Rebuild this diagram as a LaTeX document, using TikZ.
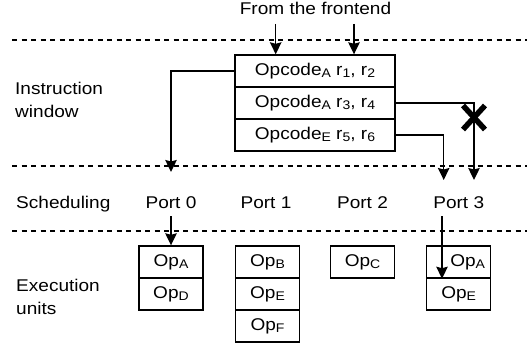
\documentclass[tikz,border=0pt]{standalone}
\usepackage{fontspec}
\setmainfont[FakeStretch=1.12]{Liberation Sans}
\usetikzlibrary{arrows.meta}
\newcommand\lowsub[1]{\raisebox{-2pt}{\fontsize{12.5}{13}\selectfont #1}}
\begin{document}
\begin{tikzpicture}[x=1pt,y=-1pt,
  font=\fontsize{17}{19}\selectfont,
  cell/.style={draw, line width=1.4pt, minimum width=64pt, minimum height=32pt, inner sep=0pt},
  wcell/.style={cell, minimum width=160pt},
  sepline/.style={line width=1.4pt, dash pattern=on 5pt off 4.5pt},
  arr/.style={line width=1.4pt, -{Stealth[length=12pt,width=11.5pt,inset=1.5pt]}},
  lbl/.style={anchor=base west, inner sep=0pt},
  txt/.style={anchor=base, inner sep=0pt},
  xmark/.style={line width=5.5pt}]
\useasboundingbox (0,0) rectangle (529,345);

% separators
\draw[sepline] (12,40) -- (527,40);
\draw[sepline] (12,166) -- (527,166);
\draw[sepline] (12,231) -- (527,231);

% side labels
\node[lbl] (l1) at (15,94) {Instruction};
\node[lbl] (l2) at (15,117.3) {window};
\node[lbl] (l3) at (16,208) {Scheduling};
\node[lbl] (l4) at (16,291.7) {Execution};
\node[lbl] (l5) at (16,314.3) {units};

% frontend
\node[txt] (fe) at (315.5,15) {From the frontend};
\coordinate (fa) at (275.7,24);
\coordinate (fb) at (354,24);

% instruction window
\node[wcell] (w1) at (315,71) {Opcode\lowsub{A} r\lowsub{1}, r\lowsub{2}};
\node[wcell] (w2) at (315,103) {Opcode\lowsub{A} r\lowsub{3}, r\lowsub{4}};
\node[wcell] (w3) at (315,135) {Opcode\lowsub{E} r\lowsub{5}, r\lowsub{6}};

% ports
\node[txt] (p0) at (171,208) {Port 0};
\node[txt] (p1) at (266,208) {Port 1};
\node[txt] (p2) at (362.5,208) {Port 2};
\node[txt] (p3) at (458.7,208) {Port 3};

% execution units
\node[cell] (e0a) at (171,262) {Op\lowsub{A}};
\node[cell] (e0d) at (171,294) {Op\lowsub{D}};
\node[cell] (e1b) at (267.5,262) {Op\lowsub{B}};
\node[cell] (e1e) at (267.5,294) {Op\lowsub{E}};
\node[cell] (e1f) at (267.5,326) {Op\lowsub{F}};
\node[cell] (e2c) at (362.5,262) {Op\lowsub{C}};
\node[cell] (e3a) at (458.7,262) {};
\node[inner sep=0pt] (e3al) at ([xshift=9pt]e3a.center) {Op\lowsub{A}};
\node[cell] (e3e) at (458.7,294) {Op\lowsub{E}};

% arrows
\draw[arr] (fa) -- (fa |- w1.north);
\draw[arr] (fb) -- (fb |- w1.north);
\coordinate (t0) at (171,172);
\coordinate (t3a) at (443.7,180);
\coordinate (t3b) at (474,180);
\draw[arr] (w1.west) -| (t0);
\draw[arr] (w2.east) -| (t3b);
\draw[arr] (w3.east) -| (t3a);
\coordinate (s0) at (171,216);
\coordinate (s3) at (442,216);
\draw[arr] (s0) -- (s0 |- e0a.north);
\draw[arr] (s3) -- (s3 |- e3a.south);

% blocked mark
\coordinate (xm) at (474,117.5);
\draw[xmark] ([shift={(-11,-12)}]xm) -- ([shift={(11,12)}]xm);
\draw[xmark] ([shift={(-11,12)}]xm) -- ([shift={(11,-12)}]xm);
\end{tikzpicture}
\end{document}
